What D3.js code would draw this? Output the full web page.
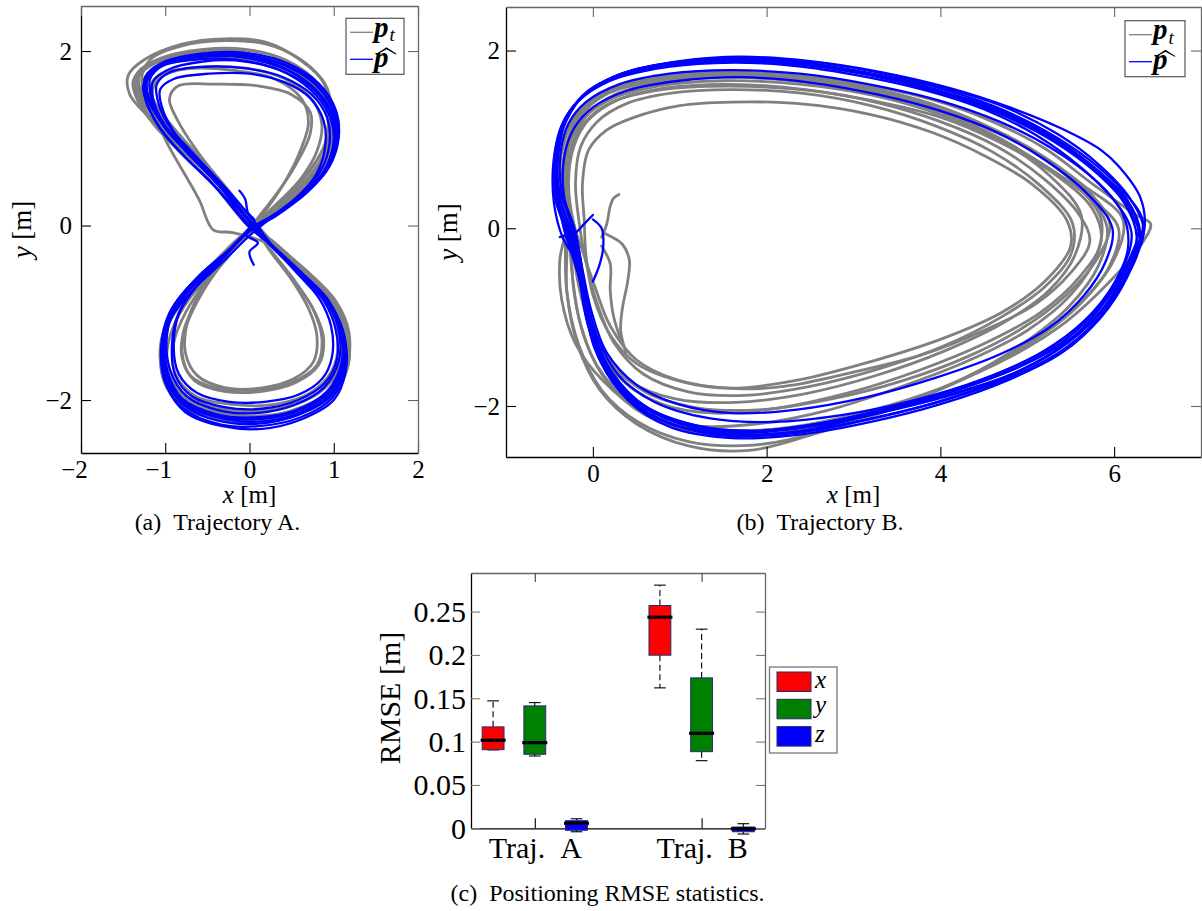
<!DOCTYPE html>
<html><head><meta charset="utf-8">
<script src="https://cdn.jsdelivr.net/npm/d3@7"></script>
<style>body{margin:0;background:#fff}svg{display:block}</style>
</head><body>
<svg id="c" width="1202" height="911"></svg>
<script>
// ---------------- DATA ----------------
// Trajectory A (figure eight) – ground truth loops p_t (grey)
const gA1 = [[0.0,0.0],[-0.4,0.5],[-0.85,0.92],[-1.2,1.25],[-1.42,1.5],[-1.44,1.72],[-1.25,1.9],[-0.8,2.08],[-0.3,2.14],[0.2,2.1],[0.6,1.9],[0.9,1.62],[0.98,1.3],[0.95,0.95],[0.78,0.6],[0.5,0.3],[0.2,0.06],[-0.1,-0.12],[-0.4,-0.4],[-0.72,-0.72],[-0.95,-1.05],[-1.06,-1.4],[-1.0,-1.75],[-0.78,-2.0],[-0.35,-2.15],[0.15,-2.18],[0.6,-2.1],[0.96,-1.9],[1.16,-1.56],[1.16,-1.2],[0.98,-0.84],[0.64,-0.5],[0.3,-0.2]];
const gA2 = [[0.05,0.02],[-0.3,0.45],[-0.62,0.85],[-0.85,1.2],[-0.95,1.45],[-0.85,1.6],[-0.4,1.62],[0.1,1.6],[0.5,1.5],[0.72,1.3],[0.72,1.05],[0.55,0.7],[0.35,0.4],[0.15,0.15],[-0.05,-0.1],[-0.3,-0.4],[-0.55,-0.75],[-0.75,-1.15],[-0.8,-1.45],[-0.7,-1.72],[-0.4,-1.86],[0.1,-1.88],[0.5,-1.8],[0.8,-1.6],[0.86,-1.3],[0.75,-0.95],[0.5,-0.6],[0.22,-0.25]];
const gA3 = [[0.0,0.05],[-0.45,0.55],[-0.9,0.95],[-1.22,1.3],[-1.35,1.58],[-1.25,1.8],[-0.9,1.95],[-0.4,2.0],[0.1,1.95],[0.55,1.78],[0.85,1.5],[0.96,1.2],[0.92,0.85],[0.72,0.52],[0.42,0.25],[0.12,0.02],[-0.15,-0.2],[-0.45,-0.48],[-0.78,-0.8],[-1.0,-1.15],[-1.05,-1.5],[-0.95,-1.85],[-0.65,-2.08],[-0.2,-2.2],[0.3,-2.2],[0.75,-2.08],[1.05,-1.85],[1.15,-1.5],[1.1,-1.12],[0.9,-0.78],[0.58,-0.46],[0.25,-0.18]];
const gA4 = [[-0.2,-0.08],[-0.43,-0.05],[-0.6,0.3],[-0.97,0.93],[-1.15,1.3],[-1.3,1.55],[-1.3,1.75],[-1.05,1.9],[-0.6,1.98],[-0.1,1.98],[0.4,1.85],[0.75,1.6],[0.92,1.3],[0.9,0.95],[0.7,0.6],[0.42,0.32],[0.15,0.08],[-0.1,-0.18],[-0.38,-0.5],[-0.7,-0.82],[-0.92,-1.2],[-0.98,-1.55],[-0.86,-1.86],[-0.55,-2.05],[-0.1,-2.12],[0.4,-2.08],[0.82,-1.92],[1.08,-1.62],[1.12,-1.25],[0.95,-0.85],[0.6,-0.48],[0.2,-0.2]];
const gA5 = [[0.03,0.0],[-0.38,0.48],[-0.8,0.88],[-1.1,1.22],[-1.28,1.5],[-1.22,1.72],[-0.95,1.86],[-0.45,1.92],[0.05,1.9],[0.5,1.76],[0.82,1.52],[0.95,1.2],[0.9,0.86],[0.7,0.55],[0.4,0.28],[0.12,0.04],[-0.1,-0.15],[-0.4,-0.5],[-0.62,-0.85],[-0.78,-1.2],[-0.8,-1.52],[-0.65,-1.78],[-0.3,-1.9],[0.15,-1.9],[0.55,-1.8],[0.82,-1.6],[0.88,-1.3],[0.78,-1.0],[0.55,-0.65],[0.25,-0.28]];
const gA6 = [[0.0,0.0],[-0.42,0.46],[-0.82,0.84],[-1.12,1.14],[-1.32,1.42],[-1.38,1.66],[-1.2,1.85],[-0.75,1.98],[-0.25,2.02],[0.25,1.96],[0.66,1.76],[0.92,1.48],[1.0,1.15],[0.95,0.82],[0.75,0.5],[0.45,0.24],[0.12,0.0],[-0.18,-0.24],[-0.5,-0.55],[-0.82,-0.9],[-1.02,-1.28],[-1.04,-1.66],[-0.88,-1.98],[-0.5,-2.16],[0.0,-2.2],[0.5,-2.12],[0.92,-1.92],[1.15,-1.6],[1.18,-1.22],[1.02,-0.86],[0.68,-0.52],[0.3,-0.22]];
const gA7 = [[0.05,0.05],[-0.35,0.52],[-0.75,0.95],[-1.05,1.3],[-1.18,1.55],[-1.08,1.72],[-0.7,1.8],[-0.2,1.78],[0.3,1.68],[0.62,1.45],[0.7,1.18],[0.6,0.85],[0.45,0.55],[0.25,0.25],[0.05,0.0],[-0.2,-0.28],[-0.48,-0.6],[-0.75,-0.98],[-0.9,-1.35],[-0.88,-1.7],[-0.65,-1.95],[-0.2,-2.05],[0.3,-2.05],[0.72,-1.92],[0.98,-1.66],[1.05,-1.32],[0.95,-0.95],[0.68,-0.58],[0.3,-0.22]];
const gA8 = [[0.02,0.02],[-0.36,0.5],[-0.78,0.9],[-1.1,1.22],[-1.3,1.48],[-1.32,1.7],[-1.12,1.86],[-0.7,1.96],[-0.2,1.98],[0.3,1.9],[0.7,1.68],[0.94,1.38],[0.99,1.05],[0.88,0.7],[0.62,0.4],[0.3,0.15],[0.0,-0.06],[-0.3,-0.34],[-0.66,-0.66],[-0.92,-1.0],[-1.04,-1.38],[-1.02,-1.76],[-0.82,-2.06],[-0.4,-2.22],[0.1,-2.24],[0.6,-2.15],[0.98,-1.95],[1.17,-1.6],[1.16,-1.2],[0.98,-0.84],[0.66,-0.52],[0.3,-0.2]];
const gA9 = [[0.0,0.02],[-0.38,0.55],[-0.8,1.0],[-1.12,1.38],[-1.28,1.65],[-1.18,1.9],[-0.8,2.06],[-0.3,2.12],[0.2,2.08],[0.58,1.92],[0.85,1.68],[0.96,1.4],[0.95,1.08],[0.8,0.75],[0.55,0.45],[0.25,0.18],[-0.02,-0.05],[-0.28,-0.3],[-0.6,-0.6],[-0.88,-0.95],[-1.0,-1.32],[-0.96,-1.7],[-0.75,-1.98],[-0.35,-2.12],[0.1,-2.14],[0.55,-2.05],[0.9,-1.85],[1.08,-1.55],[1.08,-1.2],[0.9,-0.85],[0.6,-0.52],[0.25,-0.2]];
const gA10 = [[0.04,0.03],[-0.34,0.46],[-0.72,0.86],[-1.0,1.18],[-1.15,1.45],[-1.1,1.66],[-0.85,1.78],[-0.4,1.82],[0.1,1.78],[0.5,1.64],[0.76,1.42],[0.86,1.15],[0.8,0.85],[0.62,0.55],[0.38,0.3],[0.12,0.06],[-0.12,-0.18],[-0.38,-0.46],[-0.6,-0.78],[-0.74,-1.12],[-0.76,-1.46],[-0.62,-1.72],[-0.28,-1.86],[0.15,-1.86],[0.52,-1.76],[0.76,-1.56],[0.8,-1.26],[0.7,-0.95],[0.5,-0.62],[0.22,-0.26]];
const gA11 = [[0.0,-0.02],[-0.44,0.48],[-0.88,0.9],[-1.18,1.24],[-1.36,1.52],[-1.32,1.76],[-1.05,1.92],[-0.55,2.02],[-0.05,2.02],[0.42,1.9],[0.76,1.68],[0.95,1.4],[0.98,1.06],[0.86,0.72],[0.6,0.42],[0.28,0.16],[-0.02,-0.08],[-0.34,-0.38],[-0.7,-0.72],[-0.96,-1.08],[-1.06,-1.48],[-0.98,-1.86],[-0.72,-2.1],[-0.28,-2.22],[0.2,-2.22],[0.66,-2.12],[1.02,-1.9],[1.18,-1.55],[1.14,-1.16],[0.94,-0.8],[0.62,-0.48],[0.28,-0.2]];
// Trajectory A – estimated loops p-hat (blue)
const bA1 = [[0.02,0.02],[-0.38,0.48],[-0.74,0.84],[-1.0,1.12],[-1.18,1.42],[-1.22,1.66],[-1.06,1.83],[-0.6,1.93],[-0.1,1.93],[0.4,1.8],[0.76,1.58],[0.97,1.3],[1.03,1.0],[0.92,0.66],[0.64,0.36],[0.3,0.12],[0.0,-0.05],[-0.27,-0.31],[-0.62,-0.6],[-0.9,-0.92],[-1.02,-1.3],[-0.98,-1.7],[-0.8,-2.0],[-0.4,-2.18],[0.05,-2.22],[0.55,-2.13],[0.92,-1.92],[1.1,-1.6],[1.08,-1.2],[0.92,-0.86],[0.6,-0.54],[0.25,-0.22]];
const bA2 = [[0.05,0.0],[-0.32,0.42],[-0.7,0.8],[-0.97,1.1],[-1.13,1.4],[-1.15,1.64],[-0.98,1.78],[-0.55,1.88],[-0.05,1.88],[0.42,1.76],[0.78,1.54],[0.98,1.25],[1.0,0.95],[0.88,0.62],[0.6,0.32],[0.28,0.1],[-0.02,-0.08],[-0.33,-0.36],[-0.68,-0.66],[-0.95,-1.0],[-1.05,-1.4],[-1.0,-1.8],[-0.78,-2.1],[-0.35,-2.28],[0.1,-2.3],[0.6,-2.2],[0.98,-1.98],[1.13,-1.65],[1.12,-1.25],[0.95,-0.9],[0.62,-0.58],[0.22,-0.2]];
const bA3 = [[0.0,0.05],[-0.42,0.52],[-0.8,0.9],[-1.06,1.2],[-1.22,1.48],[-1.24,1.7],[-1.05,1.86],[-0.58,1.97],[-0.05,1.98],[0.45,1.86],[0.82,1.63],[1.02,1.33],[1.06,1.02],[0.95,0.68],[0.68,0.38],[0.32,0.14],[0.03,-0.03],[-0.24,-0.28],[-0.58,-0.56],[-0.86,-0.88],[-0.98,-1.26],[-0.94,-1.66],[-0.74,-1.96],[-0.35,-2.12],[0.08,-2.15],[0.52,-2.06],[0.88,-1.86],[1.06,-1.55],[1.05,-1.16],[0.88,-0.82],[0.56,-0.5],[0.22,-0.18]];
const bA4 = [[-0.02,0.0],[-0.34,0.44],[-0.66,0.8],[-0.9,1.08],[-1.04,1.36],[-1.06,1.56],[-0.9,1.68],[-0.48,1.74],[0.0,1.74],[0.42,1.64],[0.72,1.46],[0.88,1.2],[0.9,0.92],[0.8,0.6],[0.56,0.32],[0.24,0.08],[-0.05,-0.1],[-0.33,-0.38],[-0.62,-0.68],[-0.84,-1.02],[-0.9,-1.38],[-0.84,-1.7],[-0.62,-1.92],[-0.24,-2.02],[0.18,-2.02],[0.58,-1.94],[0.86,-1.76],[0.98,-1.5],[0.97,-1.16],[0.83,-0.84],[0.56,-0.54],[0.2,-0.18]];
const bA5 = [[0.06,0.04],[-0.35,0.5],[-0.72,0.86],[-1.02,1.15],[-1.2,1.45],[-1.2,1.7],[-1.0,1.85],[-0.5,1.95],[0.0,1.95],[0.48,1.82],[0.84,1.6],[1.03,1.3],[1.05,0.98],[0.9,0.64],[0.62,0.34],[0.3,0.12],[0.02,-0.1],[-0.3,-0.4],[-0.65,-0.72],[-0.93,-1.06],[-1.04,-1.46],[-0.98,-1.84],[-0.76,-2.14],[-0.32,-2.3],[0.15,-2.33],[0.62,-2.22],[1.0,-2.0],[1.14,-1.68],[1.13,-1.28],[0.97,-0.92],[0.66,-0.6],[0.28,-0.24]];
const bA6 = [[0.0,-0.02],[-0.4,0.44],[-0.78,0.8],[-1.04,1.08],[-1.2,1.36],[-1.26,1.6],[-1.12,1.8],[-0.66,1.9],[-0.15,1.9],[0.36,1.78],[0.72,1.56],[0.94,1.28],[1.0,0.98],[0.9,0.64],[0.66,0.36],[0.34,0.14],[0.04,-0.02],[-0.22,-0.26],[-0.56,-0.54],[-0.84,-0.86],[-0.99,-1.22],[-1.0,-1.62],[-0.84,-1.96],[-0.45,-2.16],[0.0,-2.22],[0.5,-2.15],[0.9,-1.95],[1.1,-1.62],[1.1,-1.22],[0.94,-0.86],[0.64,-0.56],[0.28,-0.24]];
const bA7 = [[0.03,0.03],[-0.4,0.5],[-0.76,0.86],[-1.02,1.14],[-1.16,1.44],[-1.18,1.68],[-1.02,1.84],[-0.56,1.95],[-0.06,1.95],[0.44,1.83],[0.8,1.6],[1.0,1.3],[1.04,0.98],[0.92,0.64],[0.64,0.35],[0.3,0.1],[0.0,-0.06],[-0.3,-0.34],[-0.64,-0.64],[-0.92,-0.98],[-1.03,-1.36],[-0.99,-1.76],[-0.78,-2.06],[-0.36,-2.24],[0.1,-2.27],[0.58,-2.17],[0.96,-1.96],[1.12,-1.62],[1.1,-1.22],[0.93,-0.88],[0.62,-0.56],[0.26,-0.22]];
const bA8 = [[-0.02,0.02],[-0.42,0.46],[-0.8,0.82],[-1.06,1.12],[-1.22,1.4],[-1.25,1.64],[-1.1,1.82],[-0.64,1.93],[-0.12,1.94],[0.38,1.82],[0.74,1.6],[0.96,1.32],[1.02,1.02],[0.92,0.68],[0.66,0.38],[0.32,0.13],[0.02,-0.04],[-0.26,-0.3],[-0.6,-0.58],[-0.88,-0.9],[-1.0,-1.28],[-0.97,-1.68],[-0.8,-1.98],[-0.4,-2.16],[0.04,-2.2],[0.54,-2.12],[0.92,-1.9],[1.09,-1.58],[1.08,-1.2],[0.92,-0.86],[0.62,-0.55],[0.26,-0.23]];
const bA9 = [[0.04,0.0],[-0.32,0.46],[-0.68,0.84],[-0.94,1.12],[-1.08,1.4],[-1.1,1.62],[-0.94,1.76],[-0.52,1.82],[-0.04,1.8],[0.4,1.7],[0.74,1.5],[0.92,1.24],[0.95,0.94],[0.84,0.62],[0.58,0.34],[0.26,0.1],[-0.02,-0.08],[-0.3,-0.36],[-0.6,-0.66],[-0.84,-1.0],[-0.92,-1.36],[-0.88,-1.72],[-0.68,-1.96],[-0.3,-2.08],[0.14,-2.1],[0.58,-2.0],[0.9,-1.8],[1.04,-1.52],[1.02,-1.18],[0.88,-0.86],[0.6,-0.56],[0.24,-0.2]];
const bA10 = [[0.0,0.04],[-0.38,0.5],[-0.76,0.88],[-1.03,1.18],[-1.2,1.47],[-1.22,1.7],[-1.05,1.85],[-0.6,1.95],[-0.1,1.96],[0.4,1.84],[0.78,1.62],[0.99,1.33],[1.05,1.02],[0.94,0.67],[0.66,0.37],[0.31,0.13],[0.01,-0.04],[-0.28,-0.32],[-0.6,-0.62],[-0.88,-0.96],[-1.01,-1.34],[-0.97,-1.74],[-0.78,-2.04],[-0.38,-2.2],[0.07,-2.25],[0.56,-2.16],[0.94,-1.95],[1.11,-1.64],[1.1,-1.25],[0.94,-0.9],[0.62,-0.57],[0.25,-0.22]];
const bANoise = [[-0.12,0.4],[-0.05,0.3],[-0.02,0.15],[0.06,0.05],[-0.05,-0.1],[0.1,-0.2],[0.0,-0.3],[0.05,-0.45]];

// Trajectory B – ground truth loops p_t (grey)
const gB1 = [[-0.25,0.0],[-0.32,0.45],[-0.28,0.9],[-0.12,1.22],[0.2,1.45],[0.75,1.6],[1.5,1.66],[2.4,1.62],[3.2,1.5],[4.0,1.28],[4.7,0.98],[5.25,0.6],[5.62,0.15],[5.55,-0.3],[5.25,-0.7],[4.75,-1.05],[4.05,-1.38],[3.25,-1.66],[2.45,-1.86],[1.65,-1.96],[0.95,-1.92],[0.42,-1.72],[0.08,-1.38],[-0.1,-0.9],[-0.2,-0.45]];
const gB2 = [[-0.3,-0.05],[-0.38,0.4],[-0.36,0.85],[-0.22,1.22],[0.08,1.5],[0.6,1.66],[1.35,1.72],[2.2,1.7],[3.0,1.6],[3.8,1.42],[4.5,1.16],[5.1,0.85],[5.65,0.48],[6.1,0.1],[6.0,-0.35],[5.6,-0.85],[5.0,-1.3],[4.2,-1.72],[3.4,-2.05],[2.6,-2.3],[1.8,-2.5],[1.1,-2.45],[0.5,-2.2],[0.08,-1.82],[-0.18,-1.3],[-0.3,-0.7]];
const gB3 = [[-0.28,0.02],[-0.35,0.5],[-0.3,0.95],[-0.15,1.28],[0.15,1.52],[0.7,1.68],[1.45,1.74],[2.3,1.72],[3.1,1.62],[3.9,1.45],[4.6,1.2],[5.2,0.9],[5.75,0.5],[6.25,0.15],[6.42,0.05],[6.3,-0.2],[5.95,-0.6],[5.45,-1.05],[4.8,-1.45],[4.0,-1.8],[3.2,-2.05],[2.4,-2.22],[1.6,-2.28],[0.95,-2.2],[0.42,-1.95],[0.05,-1.55],[-0.15,-1.05],[-0.24,-0.5]];
const gB4 = [[-0.1,0.1],[-0.12,0.5],[-0.05,0.88],[0.15,1.1],[0.45,1.24],[1.0,1.38],[1.6,1.42],[2.4,1.4],[3.2,1.28],[3.9,1.08],[4.5,0.82],[5.05,0.5],[5.45,0.1],[5.5,-0.2],[5.2,-0.6],[4.7,-0.95],[4.0,-1.25],[3.2,-1.5],[2.4,-1.7],[1.6,-1.8],[1.0,-1.72],[0.5,-1.52],[0.2,-1.2],[0.0,-0.75],[-0.08,-0.3]];
const gB5 = [[-0.3,0.05],[-0.38,0.45],[-0.36,0.9],[-0.25,1.22],[0.02,1.48],[0.5,1.64],[1.2,1.7],[2.0,1.7],[2.8,1.6],[3.6,1.45],[4.35,1.2],[5.0,0.9],[5.55,0.5],[5.85,0.1],[5.8,-0.3],[5.5,-0.75],[5.0,-1.15],[4.3,-1.5],[3.5,-1.8],[2.7,-2.05],[1.9,-2.2],[1.15,-2.22],[0.55,-2.05],[0.12,-1.72],[-0.2,-1.3],[-0.36,-0.8],[-0.38,-0.35]];
const gB6 = [[-0.22,0.05],[-0.28,0.5],[-0.22,0.92],[-0.05,1.22],[0.3,1.45],[0.85,1.58],[1.6,1.62],[2.45,1.56],[3.25,1.42],[4.0,1.2],[4.65,0.92],[5.2,0.55],[5.6,0.15],[5.72,-0.15],[5.5,-0.5],[5.1,-0.85],[4.5,-1.15],[3.8,-1.42],[3.0,-1.62],[2.2,-1.78],[1.55,-1.8],[0.95,-1.7],[0.5,-1.48],[0.2,-1.1],[0.02,-0.65],[-0.12,-0.25]];
const gB7 = [[-0.2,-0.05],[-0.3,0.4],[-0.26,0.85],[-0.1,1.18],[0.22,1.42],[0.8,1.56],[1.55,1.6],[2.4,1.56],[3.2,1.44],[4.0,1.25],[4.7,0.96],[5.3,0.62],[5.75,0.22],[5.85,-0.15],[5.6,-0.55],[5.15,-0.95],[4.5,-1.3],[3.75,-1.6],[2.95,-1.85],[2.15,-2.02],[1.4,-2.08],[0.8,-1.98],[0.35,-1.72],[0.05,-1.32],[-0.1,-0.85],[-0.18,-0.4]];
const gB8 = [[-0.26,0.0],[-0.34,0.46],[-0.3,0.9],[-0.16,1.24],[0.14,1.5],[0.66,1.64],[1.4,1.7],[2.25,1.68],[3.05,1.56],[3.85,1.36],[4.55,1.08],[5.15,0.74],[5.7,0.36],[6.05,0.0],[5.95,-0.42],[5.6,-0.86],[5.05,-1.28],[4.35,-1.66],[3.55,-1.98],[2.75,-2.2],[1.95,-2.32],[1.2,-2.3],[0.6,-2.1],[0.18,-1.75],[-0.08,-1.28],[-0.22,-0.7]];
const gB9 = [[-0.24,0.05],[-0.3,0.5],[-0.24,0.92],[-0.08,1.26],[0.24,1.5],[0.78,1.64],[1.5,1.7],[2.3,1.66],[3.1,1.56],[3.9,1.38],[4.6,1.12],[5.2,0.8],[5.7,0.42],[5.95,0.05],[5.8,-0.35],[5.45,-0.75],[4.95,-1.12],[4.3,-1.45],[3.55,-1.72],[2.75,-1.92],[1.95,-2.04],[1.2,-2.02],[0.6,-1.84],[0.2,-1.5],[-0.04,-1.05],[-0.16,-0.52]];
const gB10 = [[-0.32,0.0],[-0.36,0.48],[-0.3,0.95],[-0.14,1.3],[0.18,1.55],[0.7,1.7],[1.45,1.76],[2.3,1.72],[3.1,1.6],[3.9,1.4],[4.6,1.12],[5.2,0.78],[5.7,0.38],[5.92,0.0],[5.82,-0.42],[5.48,-0.88],[4.95,-1.3],[4.25,-1.7],[3.45,-2.02],[2.65,-2.28],[1.85,-2.44],[1.1,-2.4],[0.52,-2.18],[0.1,-1.82],[-0.16,-1.32],[-0.3,-0.72]];
const gB11 = [[-0.16,0.08],[-0.2,0.52],[-0.14,0.92],[0.05,1.2],[0.38,1.4],[0.9,1.52],[1.6,1.56],[2.4,1.52],[3.2,1.38],[3.95,1.15],[4.6,0.86],[5.15,0.48],[5.52,0.06],[5.5,-0.3],[5.2,-0.66],[4.7,-1.0],[4.05,-1.32],[3.3,-1.58],[2.5,-1.78],[1.75,-1.88],[1.1,-1.84],[0.58,-1.64],[0.25,-1.3],[0.05,-0.85],[-0.08,-0.38]];
const gBTail1 = [[0.1,-0.1],[0.16,0.05],[0.2,0.25],[0.24,0.34],[0.3,0.38]];
const gBTail2 = [[0.12,-0.05],[0.22,-0.1],[0.34,-0.18],[0.42,-0.36],[0.4,-0.6],[0.34,-0.9],[0.32,-1.15],[0.38,-1.4]];
const gBTail3 = [[0.1,-0.2],[0.2,-0.4],[0.2,-0.7],[0.24,-1.0],[0.34,-1.3]];
// Trajectory B – estimated loops p-hat (blue)
const bB1 = [[-0.3,0.0],[-0.42,0.4],[-0.42,0.85],[-0.33,1.2],[-0.15,1.45],[0.25,1.7],[0.8,1.84],[1.5,1.9],[2.3,1.86],[3.1,1.76],[3.9,1.6],[4.6,1.38],[5.2,1.1],[5.7,0.78],[6.1,0.42],[6.33,0.08],[6.22,-0.3],[5.95,-0.75],[5.55,-1.2],[5.0,-1.52],[4.3,-1.78],[3.5,-2.0],[2.7,-2.18],[1.9,-2.28],[1.2,-2.22],[0.6,-2.0],[0.22,-1.62],[0.0,-1.15],[-0.12,-0.7],[-0.18,-0.3]];
const bB2 = [[-0.25,0.05],[-0.4,0.5],[-0.38,0.95],[-0.28,1.28],[-0.05,1.55],[0.4,1.76],[1.0,1.88],[1.7,1.93],[2.5,1.88],[3.3,1.76],[4.1,1.58],[4.8,1.36],[5.4,1.12],[5.85,0.88],[6.05,0.7],[6.3,0.35],[6.35,0.0],[6.2,-0.4],[5.9,-0.88],[5.45,-1.3],[4.8,-1.65],[4.0,-1.9],[3.2,-2.1],[2.4,-2.28],[1.6,-2.34],[0.9,-2.2],[0.4,-1.9],[0.08,-1.45],[-0.08,-0.95],[-0.15,-0.45]];
const bB3 = [[-0.2,-0.05],[-0.33,0.35],[-0.33,0.8],[-0.22,1.12],[0.0,1.36],[0.4,1.55],[1.0,1.66],[1.7,1.7],[2.5,1.64],[3.3,1.5],[4.0,1.32],[4.65,1.08],[5.22,0.76],[5.7,0.38],[5.98,0.0],[5.9,-0.38],[5.65,-0.76],[5.25,-1.12],[4.68,-1.42],[3.95,-1.68],[3.15,-1.9],[2.35,-2.04],[1.6,-2.08],[0.98,-1.98],[0.5,-1.76],[0.16,-1.4],[-0.02,-0.92],[-0.12,-0.46]];
const bB4 = [[-0.35,-0.1],[-0.45,0.3],[-0.45,0.78],[-0.36,1.15],[-0.18,1.42],[0.2,1.66],[0.75,1.8],[1.4,1.86],[2.2,1.84],[3.0,1.73],[3.8,1.56],[4.5,1.34],[5.1,1.05],[5.6,0.7],[6.0,0.32],[6.2,-0.05],[6.1,-0.45],[5.8,-0.9],[5.3,-1.32],[4.6,-1.66],[3.8,-1.92],[3.0,-2.12],[2.2,-2.26],[1.4,-2.3],[0.75,-2.14],[0.3,-1.82],[0.02,-1.35],[-0.1,-0.85],[-0.18,-0.4]];
const bB5 = [[-0.28,0.0],[-0.4,0.45],[-0.4,0.9],[-0.3,1.22],[-0.1,1.5],[0.3,1.73],[0.9,1.86],[1.6,1.9],[2.4,1.85],[3.2,1.72],[4.0,1.52],[4.7,1.28],[5.3,0.98],[5.8,0.62],[6.15,0.25],[6.3,-0.12],[6.15,-0.55],[5.85,-1.0],[5.4,-1.4],[4.8,-1.7],[4.0,-1.98],[3.2,-2.18],[2.4,-2.32],[1.6,-2.36],[0.9,-2.24],[0.42,-1.95],[0.1,-1.5],[-0.05,-1.0],[-0.14,-0.5]];
const bB6 = [[-0.22,0.02],[-0.36,0.42],[-0.37,0.86],[-0.28,1.18],[-0.08,1.42],[0.3,1.62],[0.88,1.74],[1.58,1.78],[2.38,1.74],[3.18,1.62],[3.98,1.44],[4.68,1.2],[5.28,0.9],[5.78,0.54],[6.1,0.16],[6.16,-0.22],[6.0,-0.62],[5.66,-1.04],[5.16,-1.4],[4.48,-1.7],[3.68,-1.94],[2.88,-2.1],[2.08,-2.18],[1.35,-2.14],[0.72,-1.96],[0.3,-1.66],[0.05,-1.22],[-0.08,-0.74],[-0.15,-0.3]];
const bB7 = [[-0.32,0.02],[-0.43,0.44],[-0.42,0.88],[-0.32,1.22],[-0.12,1.48],[0.28,1.72],[0.85,1.85],[1.55,1.9],[2.35,1.86],[3.15,1.74],[3.95,1.56],[4.65,1.33],[5.25,1.04],[5.75,0.7],[6.15,0.32],[6.3,-0.05],[6.18,-0.46],[5.9,-0.92],[5.45,-1.34],[4.85,-1.66],[4.1,-1.92],[3.3,-2.12],[2.5,-2.27],[1.7,-2.32],[1.0,-2.2],[0.48,-1.94],[0.14,-1.52],[-0.04,-1.02],[-0.14,-0.5]];
const bB8 = [[-0.3,-0.05],[-0.44,0.36],[-0.44,0.82],[-0.35,1.18],[-0.16,1.44],[0.22,1.68],[0.8,1.82],[1.5,1.88],[2.3,1.85],[3.1,1.74],[3.9,1.57],[4.6,1.36],[5.2,1.08],[5.7,0.74],[6.08,0.38],[6.28,0.02],[6.16,-0.38],[5.88,-0.82],[5.46,-1.24],[4.9,-1.56],[4.2,-1.82],[3.4,-2.04],[2.6,-2.2],[1.8,-2.28],[1.1,-2.2],[0.55,-1.97],[0.18,-1.58],[-0.02,-1.1],[-0.14,-0.6]];
const bB9 = [[-0.26,0.0],[-0.41,0.42],[-0.41,0.88],[-0.31,1.23],[-0.1,1.5],[0.3,1.72],[0.9,1.86],[1.6,1.92],[2.4,1.87],[3.2,1.74],[4.0,1.54],[4.7,1.3],[5.3,1.0],[5.78,0.66],[6.12,0.28],[6.26,-0.1],[6.12,-0.5],[5.82,-0.96],[5.36,-1.36],[4.75,-1.68],[3.98,-1.95],[3.18,-2.15],[2.38,-2.3],[1.58,-2.33],[0.88,-2.2],[0.4,-1.92],[0.08,-1.48],[-0.08,-0.98],[-0.16,-0.48]];
const bB10 = [[-0.34,0.02],[-0.42,0.46],[-0.41,0.9],[-0.3,1.24],[-0.08,1.52],[0.34,1.74],[0.95,1.87],[1.65,1.92],[2.45,1.88],[3.25,1.76],[4.05,1.58],[4.75,1.36],[5.35,1.06],[5.82,0.72],[6.18,0.34],[6.34,-0.02],[6.2,-0.42],[5.92,-0.86],[5.5,-1.26],[4.92,-1.6],[4.18,-1.86],[3.38,-2.06],[2.58,-2.22],[1.78,-2.3],[1.05,-2.2],[0.5,-1.96],[0.14,-1.56],[-0.06,-1.08],[-0.16,-0.56]];
const bBTail1 = [[-0.38,-0.1],[-0.32,-0.08],[-0.2,-0.05],[-0.1,0.05],[0.0,0.15]];
const bBTail2 = [[0.0,0.1],[0.1,0.0],[0.12,-0.2],[0.08,-0.4],[0.0,-0.6]];

// axis ticks
const trajATicksX = [-2,-1,0,1,2];
const trajATickLabelsX = ["\u22122","\u22121","0","1","2"];
const trajATicksY = [-2,0,2];
const trajATickLabelsY = ["\u22122","0","2"];
const trajBTicksX = [0,2,4,6];
const trajBTickLabelsX = ["0","2","4","6"];
const trajBTicksY = [-2,0,2];
const trajBTickLabelsY = ["\u22122","0","2"];

// RMSE box plot
const rmseGroupTicks = [2,6];
const rmseGroupLabels = ["Traj.\u2002A","Traj.\u2002B"];
const rmseAxes = ["x","y","z"];
const boxPos        = [1,2,3,5,6,7];
const boxAxis       = ["x","y","z","x","y","z"];
const boxWhiskerLow = [0.0905,0.0834,-0.0040,0.1620,0.0780,-0.0066];
const boxQ1         = [0.0907,0.0854,-0.0023,0.1997,0.0884,-0.0040];
const boxMedian     = [0.1016,0.0988,0.0058,0.2435,0.1096,-0.0005];
const boxQ3         = [0.1170,0.1412,0.0088,0.2570,0.1735,0.0015];
const boxWhiskerHigh= [0.1470,0.1450,0.0110,0.2805,0.2297,0.0053];
const rmseTicks = [0,0.05,0.1,0.15,0.2,0.25];
const rmseTickLabels = ["0","0.05","0.1","0.15","0.2","0.25"];

// ---------------- DRAWING ----------------
const SERIF = "'Liberation Serif','Times New Roman',serif";
const svg = d3.select("#c");
const GREY = "#808080", BLUE = "#0000ff";
const FRAME2 = "#666";

function styleAxis(sel, color, fs, tickColor) {
  sel.select(".domain").attr("stroke", color).attr("stroke-width", 1.3);
  sel.selectAll(".tick line").attr("stroke", tickColor || color).attr("stroke-width", 1.1);
  sel.selectAll("text").style("font-family", SERIF).style("font-size", fs + "px").attr("fill", "#000");
}

function trajPanel(p) {
  const g = svg.append("g");
  const x = d3.scaleLinear().domain(p.xDomain).range([p.left, p.right]);
  const y = d3.scaleLinear().domain(p.yDomain).range([p.bottom, p.top]);
  const loop = d3.line().x(d => x(d[0])).y(d => y(d[1])).curve(d3.curveCatmullRomClosed.alpha(0.5));
  const open = d3.line().x(d => x(d[0])).y(d => y(d[1])).curve(d3.curveCatmullRom.alpha(0.5));
  const common = s => s.attr("fill","none").attr("stroke-linejoin","round").attr("stroke-linecap","round");
  g.append("g").selectAll("path").data(p.grey).join("path").attr("d", loop).attr("stroke", GREY).attr("stroke-width", 2.8).call(common);
  g.append("g").selectAll("path").data(p.greyTails).join("path").attr("d", open).attr("stroke", GREY).attr("stroke-width", 2.8).call(common);
  g.append("g").selectAll("path").data(p.blue).join("path").attr("d", loop).attr("stroke", BLUE).attr("stroke-width", 2.3).call(common);
  g.append("g").selectAll("path").data(p.blueTails).join("path").attr("d", open).attr("stroke", BLUE).attr("stroke-width", 2.3).call(common);

  // axes (inward ticks on every side)
  const fs = 25;
  const bottom = g.append("g").attr("transform", `translate(0,${p.bottom})`)
    .call(d3.axisBottom(x).tickValues(p.xTicks).tickSize(-10).tickSizeOuter(0).tickFormat((d,i) => p.xLabels[i]));
  styleAxis(bottom, "#000", fs);
  bottom.selectAll("text").attr("y", p.xLabelDy).attr("dy", null).attr("text-anchor","end").attr("x", 6.3);
  const left = g.append("g").attr("transform", `translate(${p.left},0)`)
    .call(d3.axisLeft(y).tickValues(p.yTicks).tickSize(-10).tickSizeOuter(0).tickFormat((d,i) => p.yLabels[i]));
  styleAxis(left, "#000", fs);
  left.selectAll("text").attr("x", -p.yLabelGap).attr("dy", "0.33em");
  const top = g.append("g").attr("transform", `translate(0,${p.top})`)
    .call(d3.axisTop(x).tickValues(p.xTicks).tickSize(-10).tickSizeOuter(0).tickFormat(""));
  styleAxis(top, FRAME2, fs);
  const right = g.append("g").attr("transform", `translate(${p.right},0)`)
    .call(d3.axisRight(y).tickValues(p.yTicks).tickSize(-10).tickSizeOuter(0).tickFormat(""));
  styleAxis(right, FRAME2, fs);

  // axis labels
  const xl = g.append("text").attr("x", (p.left + p.right) / 2).attr("y", p.xTitleY)
    .attr("text-anchor","middle").style("font-family", SERIF).style("font-size", "25px");
  xl.append("tspan").attr("font-style","italic").text("x");
  xl.append("tspan").text(" [m]");
  const yl = g.append("text").attr("transform", `translate(${p.yTitleX},${(p.top + p.bottom) / 2}) rotate(-90)`)
    .attr("text-anchor","middle").style("font-family", SERIF).style("font-size", "27px");
  yl.append("tspan").attr("font-style","italic").text("y");
  yl.append("tspan").text(" [m]");

  // legend
  const L = g.append("g").attr("transform", `translate(${p.legendX},${p.legendY})`);
  L.append("rect").attr("x",0).attr("y",0).attr("width",p.legendW).attr("height",56)
    .attr("fill","#fff").attr("stroke","#555").attr("stroke-width",1.2);
  L.append("line").attr("x1",4).attr("x2",27).attr("y1",14).attr("y2",14).attr("stroke",GREY).attr("stroke-width",1.3);
  L.append("line").attr("x1",4).attr("x2",27).attr("y1",41).attr("y2",41).attr("stroke",BLUE).attr("stroke-width",1.3);
  const t1 = L.append("text").attr("x",28).attr("y",18.5).style("font-family",SERIF).style("font-size","29px");
  t1.append("tspan").attr("font-style","italic").attr("font-weight","bold").text("p");
  t1.append("tspan").attr("font-style","italic").style("font-size","19px").attr("dy",4.5).attr("dx",1).text("t");
  L.append("text").attr("x",28).attr("y",48.5).style("font-family",SERIF).style("font-size","29px")
    .attr("font-style","italic").attr("font-weight","bold").text("p");
  L.append("path").attr("d","M30.5,35.5 L40.5,29 L50.5,35.5 L49.6,36.1 L40.5,31 L31.4,36.1 Z").attr("fill","#000");
}

trajPanel({
  left: 81, right: 418, top: 6, bottom: 453,
  xDomain: [-2, 2], yDomain: [-2.607, 2.516],
  xTicks: trajATicksX, xLabels: trajATickLabelsX, yTicks: trajATicksY, yLabels: trajATickLabelsY,
  grey: [gA1,gA2,gA3,gA4,gA5,gA6,gA7,gA8,gA9,gA10,gA11], greyTails: [],
  blue: [bA1,bA2,bA3,bA4,bA5,bA6,bA7,bA8,bA9,bA10], blueTails: [bANoise],
  xLabelDy: 25, yLabelGap: 9, xTitleY: 503, yTitleX: 31,
  legendX: 346, legendY: 18.3, legendW: 58
});
trajPanel({
  left: 506, right: 1201, top: 7, bottom: 457,
  xDomain: [-1, 7], yDomain: [-2.574, 2.49],
  xTicks: trajBTicksX, xLabels: trajBTickLabelsX, yTicks: trajBTicksY, yLabels: trajBTickLabelsY,
  grey: [gB1,gB2,gB3,gB4,gB5,gB6,gB7,gB8,gB9,gB10,gB11], greyTails: [gBTail1,gBTail2,gBTail3],
  blue: [bB1,bB2,bB3,bB4,bB5,bB6,bB7,bB8,bB9,bB10], blueTails: [bBTail1,bBTail2],
  xLabelDy: 25, yLabelGap: 6, xTitleY: 503, yTitleX: 457,
  legendX: 1125, legendY: 20.7, legendW: 60
});

// ---------------- BOX PLOT ----------------
(function () {
  const g = svg.append("g");
  const L = 471, R = 765, T = 573, B = 828.3;
  const x = d3.scaleLinear().domain([0.47, 7.52]).range([L, R]);
  const y = d3.scaleLinear().domain([0, 0.2945]).range([B, T]);
  const color = d3.scaleOrdinal().domain(rmseAxes).range(["#ff0000", "#008000", "#0000ff"]);
  const halfBox = 0.262, halfCap = 0.14, halfMed = 0.3;
  const idx = d3.range(boxPos.length);

  const fs = 30;
  const bottom = g.append("g").attr("transform", `translate(0,${B})`)
    .call(d3.axisBottom(x).tickValues(rmseGroupTicks).tickSize(-10).tickSizeOuter(0).tickFormat((d,i) => rmseGroupLabels[i]));
  styleAxis(bottom, "#000", fs);
  bottom.selectAll("text").attr("y", 30).attr("dy", null);
  const left = g.append("g").attr("transform", `translate(${L},0)`)
    .call(d3.axisLeft(y).tickValues(rmseTicks).tickSize(-9).tickSizeOuter(0).tickFormat((d,i) => rmseTickLabels[i]));
  styleAxis(left, "#000", fs, "#777");
  left.selectAll("text").attr("x", -5).attr("dy", "0.33em");
  const top = g.append("g").attr("transform", `translate(0,${T})`)
    .call(d3.axisTop(x).tickValues(rmseGroupTicks).tickSize(-9).tickSizeOuter(0).tickFormat(""));
  styleAxis(top, FRAME2, fs, "#444");
  const right = g.append("g").attr("transform", `translate(${R},0)`)
    .call(d3.axisRight(y).tickValues(rmseTicks).tickSize(-9).tickSizeOuter(0).tickFormat(""));
  styleAxis(right, FRAME2, fs, "#777");

  // whiskers
  const wh = g.append("g");
  wh.selectAll("line.up").data(idx).join("line").attr("class","up")
    .attr("x1", i => x(boxPos[i])).attr("x2", i => x(boxPos[i]))
    .attr("y1", i => y(boxQ3[i])).attr("y2", i => y(boxWhiskerHigh[i]))
    .attr("stroke","#000").attr("stroke-width",1.1).attr("stroke-dasharray","6,3.5");
  wh.selectAll("line.lo").data(idx).join("line").attr("class","lo")
    .attr("x1", i => x(boxPos[i])).attr("x2", i => x(boxPos[i]))
    .attr("y1", i => y(boxQ1[i])).attr("y2", i => y(boxWhiskerLow[i]))
    .attr("stroke","#000").attr("stroke-width",1.1).attr("stroke-dasharray","6,3.5");
  wh.selectAll("line.capu").data(idx).join("line").attr("class","capu")
    .attr("x1", i => x(boxPos[i] - halfCap)).attr("x2", i => x(boxPos[i] + halfCap))
    .attr("y1", i => y(boxWhiskerHigh[i])).attr("y2", i => y(boxWhiskerHigh[i]))
    .attr("stroke","#000").attr("stroke-width",1.1);
  wh.selectAll("line.capl").data(idx).join("line").attr("class","capl")
    .attr("x1", i => x(boxPos[i] - halfCap)).attr("x2", i => x(boxPos[i] + halfCap))
    .attr("y1", i => y(boxWhiskerLow[i])).attr("y2", i => y(boxWhiskerLow[i]))
    .attr("stroke","#000").attr("stroke-width",1.1);
  // boxes
  g.append("g").selectAll("rect").data(idx).join("rect")
    .attr("x", i => x(boxPos[i] - halfBox)).attr("width", i => x(boxPos[i] + halfBox) - x(boxPos[i] - halfBox))
    .attr("y", i => y(boxQ3[i])).attr("height", i => y(boxQ1[i]) - y(boxQ3[i]))
    .attr("fill", i => color(boxAxis[i])).attr("stroke", "#2a2a70").attr("stroke-width", 1);
  // medians
  g.append("g").selectAll("line").data(idx).join("line")
    .attr("x1", i => x(boxPos[i] - halfMed)).attr("x2", i => x(boxPos[i] + halfMed))
    .attr("y1", i => y(boxMedian[i])).attr("y2", i => y(boxMedian[i]))
    .attr("stroke","#000").attr("stroke-width",3.2);

  // y title
  g.append("text").attr("transform", `translate(400,698) rotate(-90)`)
    .attr("text-anchor","middle").style("font-family", SERIF).style("font-size", "30px").text("RMSE [m]");

  // legend
  const LG = g.append("g").attr("transform","translate(769.5,667)");
  LG.append("rect").attr("width",67.5).attr("height",86).attr("fill","#fff").attr("stroke","#777").attr("stroke-width",1.3);
  const rows = LG.selectAll("g.row").data(rmseAxes).join("g").attr("class","row")
    .attr("transform", (d,i) => `translate(0,${5 + i * 27.3})`);
  rows.append("rect").attr("x",7.5).attr("y",0).attr("width",34).attr("height",19.5)
    .attr("fill", d => color(d)).attr("stroke","#2a2a70").attr("stroke-width",1);
  rows.append("text").attr("x",45.5).attr("y",(d,i)=> [15.5, 14, 15][i]).style("font-family",SERIF).style("font-size","25px")
    .attr("font-style","italic").text(d => d);
})();

// ---------------- CAPTIONS ----------------
function caption(cx, by, label, body) {
  const t = svg.append("text").attr("x", cx).attr("y", by).attr("text-anchor","middle")
    .style("font-family", SERIF).style("font-size", "24px").attr("fill","#000");
  t.append("tspan").text(label);
  t.append("tspan").attr("dx", 12).text(body);
}
caption(217.5, 530, "(a)", "Trajectory A.");
caption(820, 530, "(b)", "Trajectory B.");
caption(607.5, 901, "(c)", "Positioning RMSE statistics.");
</script>
</body></html>
